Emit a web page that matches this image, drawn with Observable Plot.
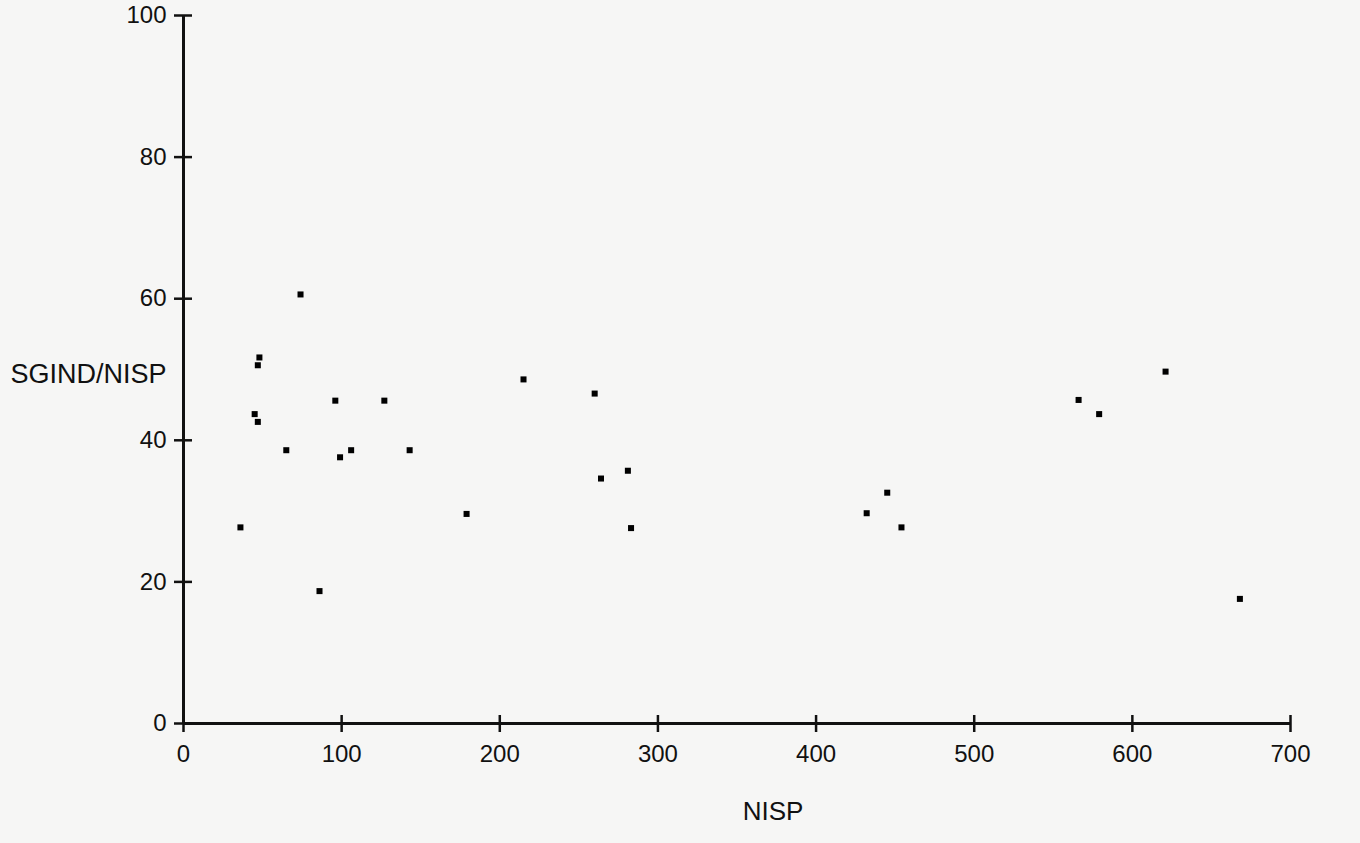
<!DOCTYPE html>
<html>
<head>
<meta charset="utf-8">
<script src="https://cdn.jsdelivr.net/npm/d3@7"></script>
<script src="https://cdn.jsdelivr.net/npm/@observablehq/plot@0.6"></script>
<style>
  html, body { margin: 0; padding: 0; background: #f6f6f5; }
  #chart svg { display: block; }
</style>
</head>
<body>
<div id="chart"></div>
<script>
// Values
const nisp = [74, 48, 47, 96, 127, 45, 47, 65, 99, 106, 143, 36, 86,
              215, 260, 281, 264, 179, 283,
              621, 566, 579, 445, 432, 454, 668];
const sgindPerNisp = [60.6, 51.7, 50.6, 45.6, 45.6, 43.7, 42.6, 38.6, 37.6, 38.6, 38.6, 27.7, 18.7,
                      48.6, 46.6, 35.7, 34.6, 29.6, 27.6,
                      49.7, 45.7, 43.7, 32.6, 29.7, 27.7, 17.6];
const xTicks = [0, 100, 200, 300, 400, 500, 600, 700];
const yTicks = [0, 20, 40, 60, 80, 100];
const xLabel = "NISP";
const yLabel = "SGIND/NISP";

const points = nisp.map((n, i) => ({nisp: n, ratio: sgindPerNisp[i]}));

const ink = "#111111";
const chart = Plot.plot({
  width: 1360,
  height: 843,
  marginLeft: 183,
  marginRight: 70,
  marginTop: 15,
  marginBottom: 120,
  x: {domain: [0, 700], label: null},
  y: {domain: [0, 100], label: null},
  style: {fontFamily: "'Liberation Sans', Arial, sans-serif", fontSize: "24px", color: ink, background: "transparent"},
  marks: [
    Plot.ruleX([0], {stroke: ink, strokeWidth: 3}),
    Plot.ruleY([0], {stroke: ink, strokeWidth: 3}),
    Plot.axisX(xTicks, {tickSize: 17, dy: -8, fill: "none", stroke: ink, strokeWidth: 2.5, label: null}),
    Plot.axisX(xTicks, {tickSize: 0, tickPadding: 21, fill: ink, fontSize: 24, label: null}),
    Plot.axisY(yTicks, {tickSize: 18, dx: 9, fill: "none", stroke: ink, strokeWidth: 2.5, label: null}),
    Plot.axisY(yTicks, {tickSize: 0, tickPadding: 17, fill: ink, fontSize: 24, label: null}),
    Plot.dot(points, {x: "nisp", y: "ratio", symbol: "square", r: 3.4, fill: "#000", stroke: null}),
    Plot.text([yLabel], {text: d => d, frameAnchor: "left", dx: -173, dy: 5, textAnchor: "start", fontSize: 27, fill: ink}),
    Plot.text([xLabel], {text: d => d, frameAnchor: "bottom", dx: 36, dy: 96, fontSize: 26, fill: ink})
  ]
});
document.getElementById("chart").appendChild(chart);
</script>
</body>
</html>
